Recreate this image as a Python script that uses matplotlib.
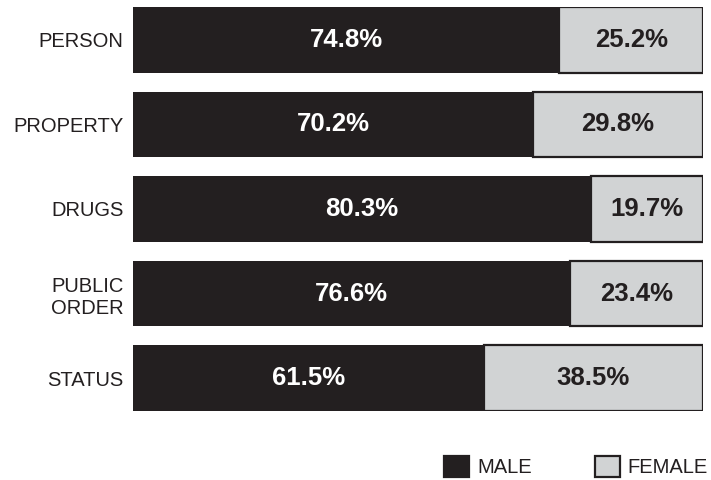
import matplotlib.pyplot as plt
import numpy as np
from matplotlib.patches import Patch

plt.rcParams['font.family'] = ['Liberation Sans', 'DejaVu Sans']

categories = ["PERSON", "PROPERTY", "DRUGS", "PUBLIC\nORDER", "STATUS"]
male = [74.8, 70.2, 80.3, 76.6, 61.5]
female = [25.2, 29.8, 19.7, 23.4, 38.5]

male_color = "#231f20"
female_color = "#d1d3d4"

fig = plt.figure(figsize=(7.11, 4.8), dpi=100)
ax = fig.add_axes([133 / 711, 69 / 480, 570 / 711, 404 / 480])

y = np.arange(len(categories))
h = 0.78

ax.barh(y, male, height=h, color=male_color, edgecolor=male_color, linewidth=0)
ax.barh(y, female, left=male, height=h, color=female_color,
        edgecolor=male_color, linewidth=1.6)

for i in range(len(categories)):
    ax.text(male[i] / 2, y[i], f"{male[i]:.1f}%", color="white",
            ha="center", va="center", fontsize=18.5, fontweight="bold")
    ax.text(male[i] + female[i] / 2, y[i], f"{female[i]:.1f}%", color=male_color,
            ha="center", va="center", fontsize=18.5, fontweight="bold")

ax.set_xlim(0, 100)
ax.set_ylim(len(categories) - 1 + h / 2, -h / 2)
ax.set_yticks(y)
ax.set_yticklabels(categories, fontsize=14.5, color=male_color, linespacing=1.25)
ax.tick_params(axis="y", length=0, pad=7)
ax.set_xticks([])
for s in ax.spines.values():
    s.set_visible(False)

handles = [Patch(facecolor=male_color, edgecolor=male_color, linewidth=1.6, label="MALE"),
           Patch(facecolor=female_color, edgecolor=male_color, linewidth=1.6, label="FEMALE")]
fig.legend(handles=handles, loc="lower right", bbox_to_anchor=(1.0, 0.0), ncol=2,
           frameon=False, fontsize=14.5, handlelength=1.25, handleheight=1.25,
           handletextpad=0.4, columnspacing=3.1, borderaxespad=0.05,
           borderpad=0.1, labelcolor=male_color)

fig.savefig("out.png", dpi=100)
